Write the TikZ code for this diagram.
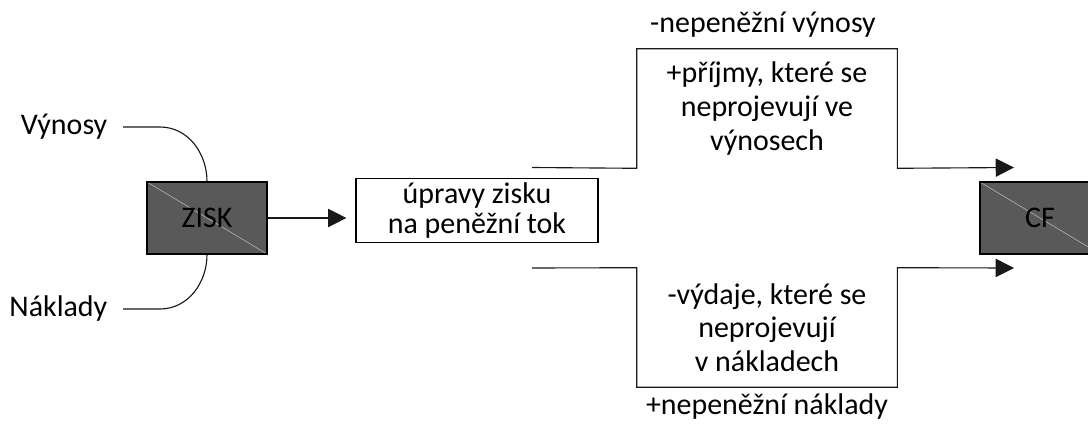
\documentclass[tikz,border=0pt]{standalone}
\usepackage{fontspec}
\setmainfont{Carlito}
\usetikzlibrary{arrows.meta,positioning}
\tikzset{
	txt/.style={font=\fontsize{21.3}{24}\selectfont, align=center},
	darkbox/.style={txt, draw=black, line width=.8pt, fill=black!65,
		minimum width=3cm, minimum height=1.8cm,
		path picture={\draw[gray!55, line width=.4pt]
			(path picture bounding box.north west) -- (path picture bounding box.south east);}},
	stepbox/.style={txt, draw=black, line width=.8pt, minimum width=6.05cm, minimum height=1.375cm},
	openbox/.style={txt, minimum width=6.5cm, minimum height=2.975cm},
	sidelabel/.style={txt, inner xsep=11pt},
	flow/.style={line width=.8pt, black!90},
	tip/.style={-{Triangle[length=13pt,width=13pt]}}
}
\begin{document}
\begin{tikzpicture}[x=0.025cm,y=0.025cm]
	\clip (0,0) rectangle (1088,424);
	% inputs and the two end boxes
	\node[sidelabel, anchor=east] (vynosy) at (123,297) {Výnosy};
	\node[sidelabel, anchor=east] (naklady) at (123,115) {Náklady};
	\node[darkbox] (zisk) at (207,206) {ZISK};
	\node[darkbox] (cf) at (1040,206) {CF};
	\node[stepbox] (upravy) at (477,213.5) {úpravy zisku\\[-3pt]na peněžní tok};
	\draw[flow] (vynosy.east) -- +(37,0) to[out=0,in=90] (zisk.north);
	\draw[flow] (naklady.east) -- +(37,0) to[out=0,in=-90] (zisk.south);
	\draw[flow, tip, shorten >=8\pgflinewidth] (zisk.east) -- (zisk.east -| upravy.west);
	% upper branch
	\coordinate (upin) at (532,256.5);
	\coordinate (upout) at (1014,256.5);
	\node[openbox] (prijmy) at (767,315.5) {+příjmy, které se\\neprojevují ve\\výnosech};
	\node[txt] (nepvynosy) at (763,399) {-nepeněžní výnosy};
	\draw[flow, tip] (upin) -- (prijmy.south west) -- (prijmy.north west)
		-- (prijmy.north east) -- (prijmy.south east) -- (upout);
	% lower branch
	\coordinate (downin) at (532,156);
	\coordinate (downout) at (1014,156);
	\node[openbox] (vydaje) at (767,96.5) {-výdaje, které se\\neprojevují\\v nákladech};
	\node[txt] (nepnaklady) at (767,17) {+nepeněžní náklady};
	\draw[flow, tip] (downin) -- (vydaje.north west) -- (vydaje.south west)
		-- (vydaje.south east) -- (vydaje.north east) -- (downout);
\end{tikzpicture}
\end{document}
